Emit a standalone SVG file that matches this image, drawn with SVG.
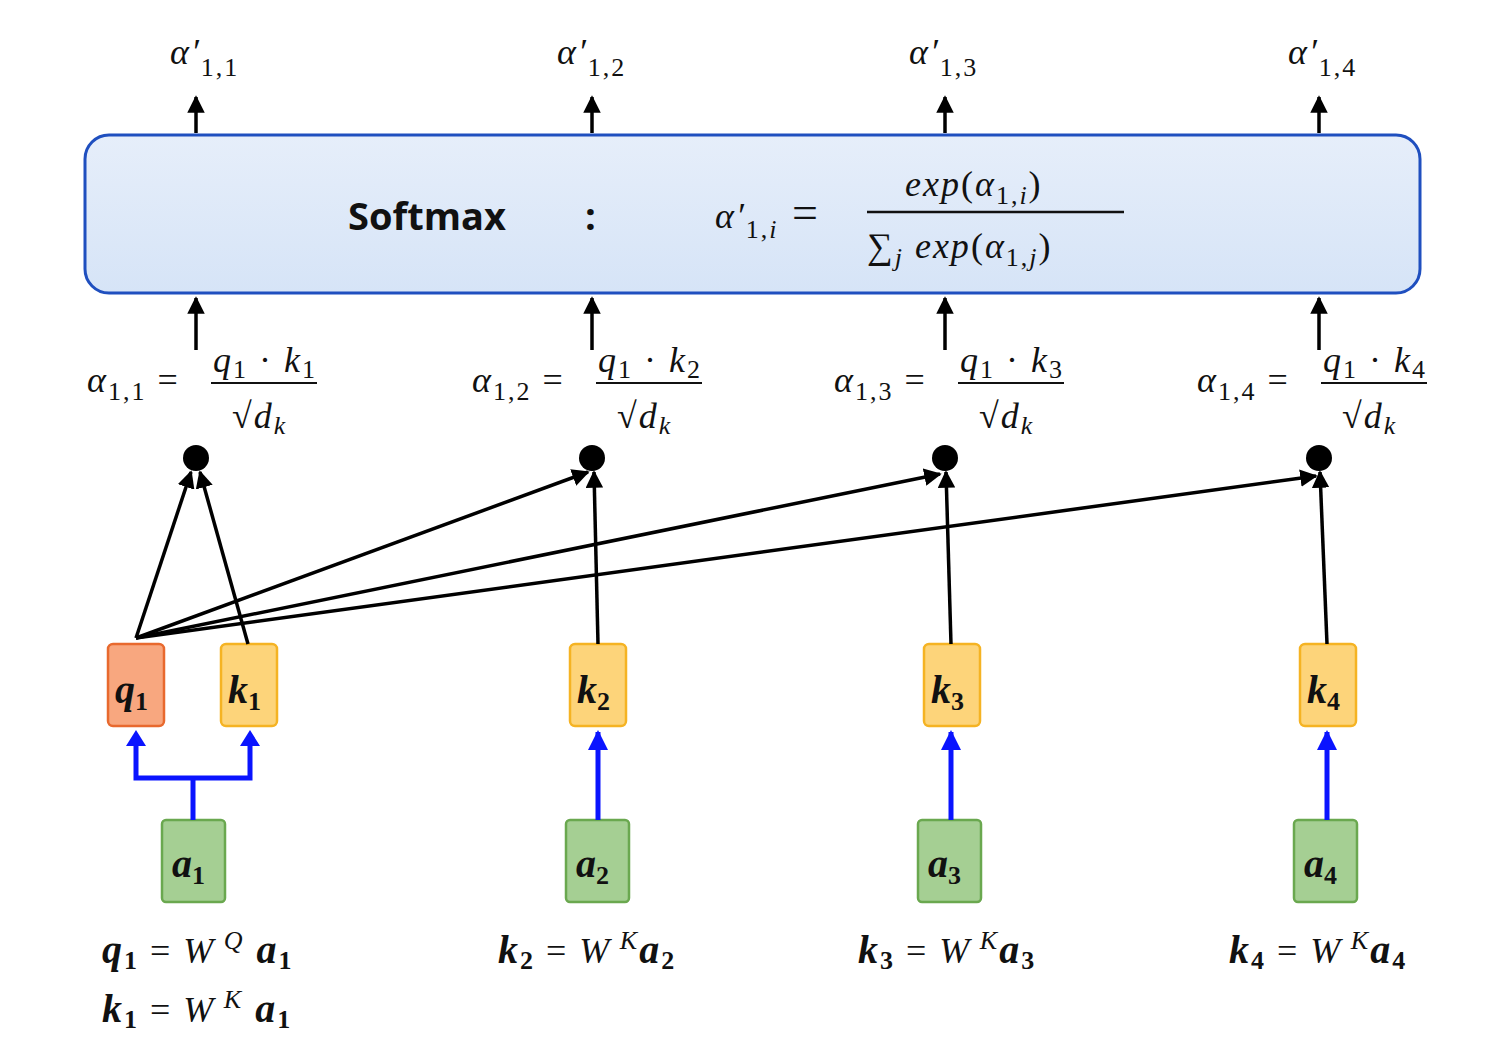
<svg xmlns="http://www.w3.org/2000/svg" width="1503" height="1047" viewBox="0 0 1503 1047">
<defs>
<marker id="ab" viewBox="0 0 10 10" refX="9" refY="5" markerWidth="5" markerHeight="5" orient="auto"><path d="M0,0L10,5L0,10z" fill="#000"/></marker>
<marker id="ablue" viewBox="0 0 10 10" refX="9" refY="5" markerWidth="4" markerHeight="4" orient="auto"><path d="M0,0L10,5L0,10z" fill="#0a14ff"/></marker>
<linearGradient id="g" x1="0" y1="0" x2="0" y2="1"><stop offset="0" stop-color="#e6eefa"/><stop offset="1" stop-color="#d6e4f7"/></linearGradient>
</defs>
<style>
.m{font-family:"Liberation Serif",serif;font-style:italic;font-size:36px;fill:#111;letter-spacing:2px}
.n{font-family:"Liberation Serif",serif;font-style:normal}
.b{font-family:"Liberation Serif",serif;font-style:italic;font-weight:bold;font-size:40px;fill:#111}
.s{font-size:26px}
.blk{stroke:#000;stroke-width:3.5;fill:none}
.blu{stroke:#0a14ff;stroke-width:5;fill:none}
</style>
<rect width="1503" height="1047" fill="#fff"/>
<g id="softmax">
<rect x="85" y="135" width="1335" height="158" rx="24" fill="url(#g)" stroke="#1f4fbf" stroke-width="3"/>
<text x="348" y="230" font-family="Open Sans,sans-serif" font-weight="bold" font-size="38" fill="#111">Softmax</text>
<text x="585" y="230" font-family="Open Sans,sans-serif" font-weight="bold" font-size="38" fill="#111">:</text>
<text class="m" x="715" y="228" font-size="42">α′<tspan class="n s" dy="10">1,</tspan><tspan class="s">i</tspan><tspan dy="-10" class="n" font-size="46">  =</tspan></text>
<text class="m" x="905" y="196" font-size="44" letter-spacing="5">exp<tspan class="n">(</tspan>α<tspan class="n s" dy="8">1,</tspan><tspan class="s">i</tspan><tspan class="n" dy="-8">)</tspan></text>
<line x1="867" y1="212" x2="1124" y2="212" stroke="#111" stroke-width="2.5"/>
<text class="m" x="867" y="258" font-size="44" letter-spacing="5"><tspan class="n">∑</tspan><tspan class="s" dy="8">j</tspan><tspan dy="-8"> exp</tspan><tspan class="n">(</tspan>α<tspan class="n s" dy="8">1,</tspan><tspan class="s">j</tspan><tspan class="n" dy="-8">)</tspan></text>
</g>
<g id="outputs">
<text class="m" x="170" y="64" font-size="40">α′<tspan class="n s" dy="12">1,1</tspan></text>
<text class="m" x="557" y="64" font-size="40">α′<tspan class="n s" dy="12">1,2</tspan></text>
<text class="m" x="909" y="64" font-size="40">α′<tspan class="n s" dy="12">1,3</tspan></text>
<text class="m" x="1288" y="64" font-size="40">α′<tspan class="n s" dy="12">1,4</tspan></text>
</g>
<g id="scores">
<g transform="translate(87,0)">
<text class="m" x="0" y="392">α<tspan class="n s" dy="8">1,1</tspan><tspan class="n" dy="-8"> =</tspan></text>
<text class="m" x="126" y="372" font-size="32">q<tspan class="n s" dy="6">1</tspan><tspan class="n" dy="-6"> · </tspan>k<tspan class="n s" dy="6">1</tspan></text>
<line x1="124" y1="383" x2="230" y2="383" stroke="#111" stroke-width="2"/>
<text class="m" x="145" y="428" font-size="32"><tspan class="n">√</tspan>d<tspan class="s" dy="6">k</tspan></text>
</g>
<g transform="translate(472,0)">
<text class="m" x="0" y="392">α<tspan class="n s" dy="8">1,2</tspan><tspan class="n" dy="-8"> =</tspan></text>
<text class="m" x="126" y="372" font-size="32">q<tspan class="n s" dy="6">1</tspan><tspan class="n" dy="-6"> · </tspan>k<tspan class="n s" dy="6">2</tspan></text>
<line x1="124" y1="383" x2="230" y2="383" stroke="#111" stroke-width="2"/>
<text class="m" x="145" y="428" font-size="32"><tspan class="n">√</tspan>d<tspan class="s" dy="6">k</tspan></text>
</g>
<g transform="translate(834,0)">
<text class="m" x="0" y="392">α<tspan class="n s" dy="8">1,3</tspan><tspan class="n" dy="-8"> =</tspan></text>
<text class="m" x="126" y="372" font-size="32">q<tspan class="n s" dy="6">1</tspan><tspan class="n" dy="-6"> · </tspan>k<tspan class="n s" dy="6">3</tspan></text>
<line x1="124" y1="383" x2="230" y2="383" stroke="#111" stroke-width="2"/>
<text class="m" x="145" y="428" font-size="32"><tspan class="n">√</tspan>d<tspan class="s" dy="6">k</tspan></text>
</g>
<g transform="translate(1197,0)">
<text class="m" x="0" y="392">α<tspan class="n s" dy="8">1,4</tspan><tspan class="n" dy="-8"> =</tspan></text>
<text class="m" x="126" y="372" font-size="32">q<tspan class="n s" dy="6">1</tspan><tspan class="n" dy="-6"> · </tspan>k<tspan class="n s" dy="6">4</tspan></text>
<line x1="124" y1="383" x2="230" y2="383" stroke="#111" stroke-width="2"/>
<text class="m" x="145" y="428" font-size="32"><tspan class="n">√</tspan>d<tspan class="s" dy="6">k</tspan></text>
</g>
</g>
<g id="dots" fill="#000">
<circle cx="196" cy="458" r="13"/><circle cx="592" cy="458" r="13"/><circle cx="945" cy="458" r="13"/><circle cx="1319" cy="458" r="13"/>
</g>
<g id="nodes">
<g id="q1"><rect x="108" y="644" width="56" height="82" rx="5" fill="#f8a77f" stroke="#e8692e" stroke-width="2.5"/><text class="b" x="115" y="703">q<tspan class="n s" font-weight="bold" dy="7">1</tspan></text></g>
<g id="k1"><rect x="221" y="644" width="56" height="82" rx="5" fill="#fdd47a" stroke="#f5b323" stroke-width="2.5"/><text class="b" x="228" y="703">k<tspan class="n s" font-weight="bold" dy="7">1</tspan></text></g>
<g id="k2"><rect x="570" y="644" width="56" height="82" rx="5" fill="#fdd47a" stroke="#f5b323" stroke-width="2.5"/><text class="b" x="577" y="703">k<tspan class="n s" font-weight="bold" dy="7">2</tspan></text></g>
<g id="k3"><rect x="924" y="644" width="56" height="82" rx="5" fill="#fdd47a" stroke="#f5b323" stroke-width="2.5"/><text class="b" x="931" y="703">k<tspan class="n s" font-weight="bold" dy="7">3</tspan></text></g>
<g id="k4"><rect x="1300" y="644" width="56" height="82" rx="5" fill="#fdd47a" stroke="#f5b323" stroke-width="2.5"/><text class="b" x="1307" y="703">k<tspan class="n s" font-weight="bold" dy="7">4</tspan></text></g>
<g id="a1"><rect x="162" y="820" width="63" height="82" rx="4" fill="#a5cf93" stroke="#6aa84f" stroke-width="2.5"/><text class="b" x="172" y="877">a<tspan class="n s" font-weight="bold" dy="7">1</tspan></text></g>
<g id="a2"><rect x="566" y="820" width="63" height="82" rx="4" fill="#a5cf93" stroke="#6aa84f" stroke-width="2.5"/><text class="b" x="576" y="877">a<tspan class="n s" font-weight="bold" dy="7">2</tspan></text></g>
<g id="a3"><rect x="918" y="820" width="63" height="82" rx="4" fill="#a5cf93" stroke="#6aa84f" stroke-width="2.5"/><text class="b" x="928" y="877">a<tspan class="n s" font-weight="bold" dy="7">3</tspan></text></g>
<g id="a4"><rect x="1294" y="820" width="63" height="82" rx="4" fill="#a5cf93" stroke="#6aa84f" stroke-width="2.5"/><text class="b" x="1304" y="877">a<tspan class="n s" font-weight="bold" dy="7">4</tspan></text></g>
</g>
<g id="equations" letter-spacing="4">
<text class="m" x="102" y="963" font-size="38"><tspan class="b">q</tspan><tspan class="n s" font-weight="bold" dy="6">1</tspan><tspan class="n" dy="-6"> = </tspan>W<tspan class="s" dy="-14"> Q</tspan><tspan class="b" dy="14"> a</tspan><tspan class="n s" font-weight="bold" dy="6">1</tspan></text>
<text class="m" x="102" y="1022" font-size="38"><tspan class="b">k</tspan><tspan class="n s" font-weight="bold" dy="6">1</tspan><tspan class="n" dy="-6"> = </tspan>W<tspan class="s" dy="-14"> K</tspan><tspan class="b" dy="14"> a</tspan><tspan class="n s" font-weight="bold" dy="6">1</tspan></text>
<text class="m" x="498" y="963" font-size="38"><tspan class="b">k</tspan><tspan class="n s" font-weight="bold" dy="6">2</tspan><tspan class="n" dy="-6"> = </tspan>W<tspan class="s" dy="-14"> K</tspan><tspan class="b" dy="14">a</tspan><tspan class="n s" font-weight="bold" dy="6">2</tspan></text>
<text class="m" x="858" y="963" font-size="38"><tspan class="b">k</tspan><tspan class="n s" font-weight="bold" dy="6">3</tspan><tspan class="n" dy="-6"> = </tspan>W<tspan class="s" dy="-14"> K</tspan><tspan class="b" dy="14">a</tspan><tspan class="n s" font-weight="bold" dy="6">3</tspan></text>
<text class="m" x="1229" y="963" font-size="38"><tspan class="b">k</tspan><tspan class="n s" font-weight="bold" dy="6">4</tspan><tspan class="n" dy="-6"> = </tspan>W<tspan class="s" dy="-14"> K</tspan><tspan class="b" dy="14">a</tspan><tspan class="n s" font-weight="bold" dy="6">4</tspan></text>
</g>
<g id="connectors">
<g class="blk" marker-end="url(#ab)">
<line x1="196" y1="133" x2="196" y2="97"/><line x1="592" y1="133" x2="592" y2="97"/><line x1="945" y1="133" x2="945" y2="97"/><line x1="1319" y1="133" x2="1319" y2="97"/>
<line x1="196" y1="350" x2="196" y2="298"/><line x1="592" y1="350" x2="592" y2="298"/><line x1="945" y1="350" x2="945" y2="298"/><line x1="1319" y1="350" x2="1319" y2="298"/>
<line x1="136" y1="638" x2="191" y2="472"/><line x1="136" y1="638" x2="588" y2="472"/><line x1="136" y1="638" x2="940" y2="474"/><line x1="136" y1="638" x2="1316" y2="476"/>
<line x1="248" y1="644" x2="200" y2="472"/><line x1="598" y1="644" x2="594" y2="472"/><line x1="951" y1="644" x2="946" y2="472"/><line x1="1327" y1="644" x2="1320" y2="472"/>
</g>
<path class="blu" d="M193,820V778H136V742M193,778H250V742"/>
<path d="M126,746L136,730L146,746zM240,746L250,730L260,746z" fill="#0a14ff"/>
<g class="blu" marker-end="url(#ablue)">
<line x1="598" y1="820" x2="598" y2="732"/><line x1="951" y1="820" x2="951" y2="732"/><line x1="1327" y1="820" x2="1327" y2="732"/>
</g>
</g>
</svg>
